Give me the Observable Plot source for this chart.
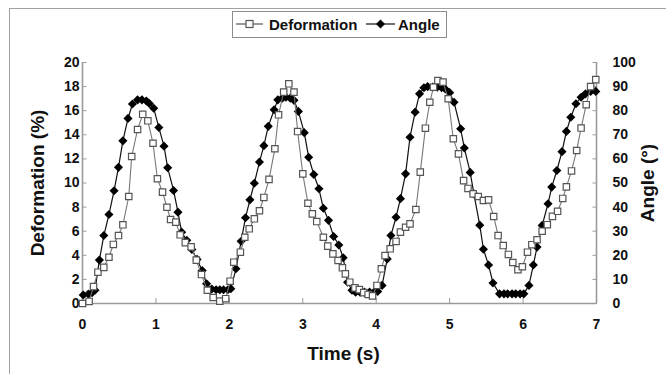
<!DOCTYPE html>
<html>
<head>
<meta charset="utf-8">
<script src="https://cdn.jsdelivr.net/npm/d3@7"></script>
<script src="https://cdn.jsdelivr.net/npm/@observablehq/plot@0.6"></script>
<style>
  html, body { margin: 0; padding: 0; background: #fff; }
  body { width: 666px; height: 374px; overflow: hidden; position: relative; font-family: "Liberation Sans", Arial, sans-serif; }
  #frame { position: absolute; left: 9px; top: 8px; width: 720px; height: 420px; border: 1.5px solid #a0a0a0; box-sizing: border-box; }
  #chart { position: absolute; left: 0; top: 0; }
  #legend { position: absolute; left: 232px; top: 11px; width: 215px; height: 27px; border: 1.5px solid #8c8c8c; box-sizing: border-box; background: #fff; }
</style>
</head>
<body>
<div id="frame"></div>
<div id="chart"></div>
<div id="legend"></div>
<script>
// ---- Data ----
const xTicks = [0, 1, 2, 3, 4, 5, 6, 7];
const deformationTicks = [0, 2, 4, 6, 8, 10, 12, 14, 16, 18, 20];
const angleTicks = [0, 10, 20, 30, 40, 50, 60, 70, 80, 90, 100];

// Deformation (%) samples
const timeDeformation = [0.00,0.09,0.15,0.21,0.29,0.36,0.42,0.49,0.55,0.63,0.67,0.75,0.82,0.89,0.96,1.02,1.09,1.15,1.20,1.27,1.33,1.40,1.48,1.55,1.62,1.70,1.78,1.87,1.95,2.01,2.06,2.15,2.21,2.27,2.34,2.41,2.47,2.54,2.62,2.67,2.74,2.81,2.88,2.93,3.00,3.07,3.13,3.19,3.28,3.34,3.41,3.48,3.54,3.58,3.64,3.71,3.77,3.83,3.89,3.95,4.01,4.07,4.12,4.19,4.27,4.33,4.40,4.46,4.54,4.60,4.67,4.73,4.78,4.84,4.91,4.98,5.05,5.12,5.19,5.25,5.32,5.39,5.46,5.53,5.60,5.66,5.73,5.80,5.86,5.93,5.99,6.06,6.12,6.19,6.26,6.33,6.40,6.47,6.54,6.59,6.66,6.73,6.79,6.86,6.92,6.99];
const deformation = [0.0,0.17,1.4,2.6,3.0,3.84,4.9,5.64,6.53,8.88,12.2,14.44,15.7,15.16,13.3,10.35,9.24,7.99,6.97,6.75,5.7,5.05,4.7,3.6,2.4,1.1,0.5,0.2,0.4,1.85,3.43,4.26,5.5,6.2,7.03,7.7,8.8,10.3,12.84,15.66,17.54,18.23,17.54,14.27,10.76,8.32,7.44,6.8,5.5,4.76,4.12,3.57,2.96,2.46,1.77,1.3,1.15,0.9,0.75,0.63,1.5,2.88,3.98,4.54,5.15,5.92,6.33,6.61,7.8,10.9,14.55,16.7,17.95,18.5,18.37,16.99,13.67,12.42,10.2,9.55,9.1,8.88,8.55,8.6,7.22,5.64,4.81,4.07,3.4,2.8,3.05,4.26,4.88,5.29,6.0,6.54,7.23,7.65,8.72,9.68,11.0,12.7,14.56,16.5,18.0,18.58];

// Angle (degrees) samples
const timeAngle = [0.01,0.08,0.13,0.17,0.23,0.29,0.36,0.43,0.49,0.55,0.62,0.68,0.75,0.81,0.87,0.91,0.97,1.04,1.11,1.16,1.24,1.30,1.35,1.42,1.49,1.56,1.63,1.69,1.76,1.82,1.87,1.92,1.98,2.02,2.09,2.16,2.22,2.28,2.34,2.41,2.47,2.53,2.61,2.66,2.72,2.77,2.83,2.88,2.94,3.02,3.08,3.15,3.22,3.28,3.35,3.42,3.49,3.55,3.61,3.67,3.72,3.78,3.84,3.91,3.97,4.02,4.08,4.15,4.20,4.27,4.33,4.40,4.46,4.53,4.59,4.65,4.70,4.77,4.83,4.89,4.94,5.00,5.06,5.15,5.20,5.28,5.33,5.41,5.46,5.53,5.59,5.68,5.74,5.79,5.85,5.90,5.96,6.01,6.08,6.14,6.19,6.26,6.34,6.39,6.46,6.53,6.59,6.65,6.72,6.79,6.85,6.92,6.99];
const angle = [3.5,3.9,4.5,5.5,18,28.2,36.9,46.8,56.5,67.5,76.8,82.8,84.5,84.5,84,83,81,73,65.3,56.3,46.9,37.9,29.6,26.2,22.4,18.3,13.7,8.2,6,5.7,5.7,5.7,5.7,6.1,14.4,25.8,35.6,43,49.9,58.7,65.5,73.5,80.4,84.5,85.2,85.6,85.2,84.3,79.7,70.9,60.7,53.5,47.6,39.5,34.5,27.8,24.3,19,8.8,5.5,4.7,4.7,4.7,4.7,4.7,5,7.5,18.5,28.2,35.8,43.5,53.8,69,79.4,87,89.5,90,89.8,89.8,89.5,89,87.5,83.5,72.5,64.5,54.4,45.5,32.5,22.5,16,8.5,4,4,4,4,4,4,4,7.5,16,23.4,32.4,41.4,48.3,55.2,63,71.4,77.3,82.9,85.6,87,88,88];

// Angle axis (0-100) shares the frame with deformation axis (0-20)
const angleToDef = 20 / 100;
const defRows = timeDeformation.map((t, i) => ({t, v: deformation[i]}));
const angRows = timeAngle.map((t, i) => ({t, v: angle[i] * angleToDef}));

const axisColor = "#9a9a9a";
const font = "'Liberation Sans', Arial, sans-serif";

const chart = Plot.plot({
  width: 666,
  height: 374,
  marginLeft: 82,
  marginRight: 70,
  marginTop: 62,
  marginBottom: 71,
  x: {domain: [0, 7]},
  y: {domain: [0, 20]},
  style: {fontFamily: font, fontSize: "14px", fontWeight: "bold", color: "#111", background: "transparent"},
  marks: [
    Plot.ruleY([0], {stroke: axisColor, strokeWidth: 1.6}),
    Plot.ruleX([0], {stroke: axisColor, strokeWidth: 1.6}),
    Plot.ruleX([7], {stroke: axisColor, strokeWidth: 1.6}),
    Plot.axisX(xTicks, {anchor: "bottom", tickSize: -5, tickPadding: 21, stroke: axisColor, label: null, fill: "#111"}),
    Plot.axisY(deformationTicks, {anchor: "left", tickSize: -4.5, tickPadding: 7.5, stroke: axisColor, label: null, fill: "#111"}),
    Plot.axisY(angleTicks.map(a => a * angleToDef), {anchor: "right", tickSize: -4.5, tickPadding: 20.5, stroke: axisColor, label: null, fill: "#111",
      tickFormat: d => String(Math.round(d / angleToDef))}),
    Plot.text(["Time (s)"], {frameAnchor: "bottom", dx: 4, dy: 50, fontSize: 19, fontWeight: "bold", fill: "#111", lineAnchor: "middle", textAnchor: "middle"}),
    Plot.text(["Deformation (%)"], {frameAnchor: "left", dx: -45, rotate: -90, fontSize: 19, fontWeight: "bold", fill: "#111", textAnchor: "middle", lineAnchor: "middle"}),
    Plot.text(["Angle (°)"], {frameAnchor: "right", dx: 51, rotate: -90, fontSize: 19, fontWeight: "bold", fill: "#111", textAnchor: "middle", lineAnchor: "middle"}),
    // Angle series
    Plot.line(angRows, {x: "t", y: "v", stroke: "#111", strokeWidth: 1.2}),
    Plot.dot(angRows, {x: "t", y: "v", symbol: "diamond2", r: 4.1, fill: "#000", stroke: "none"}),
    // Deformation series
    Plot.line(defRows, {x: "t", y: "v", stroke: "#777", strokeWidth: 1.1}),
    Plot.dot(defRows, {x: "t", y: "v", symbol: "square", r: 3.6, fill: "#fff", stroke: "#555", strokeWidth: 1.2})
  ]
});
document.getElementById("chart").appendChild(chart);

// Legend
const lg = d3.select("#legend").append("svg").attr("width", 212).attr("height", 24)
  .style("display", "block");
function swatch(x0, x1, kind) {
  const g = lg.append("g");
  g.append("line").attr("x1", x0).attr("x2", x1).attr("y1", 12).attr("y2", 12)
    .attr("stroke", kind === "square" ? "#555" : "#111").attr("stroke-width", 1.2);
  const cx = (x0 + x1) / 2;
  if (kind === "square") {
    g.append("rect").attr("x", cx - 3.5).attr("y", 8.5).attr("width", 7).attr("height", 7)
      .attr("fill", "#fff").attr("stroke", "#555").attr("stroke-width", 1.2);
  } else {
    g.append("path").attr("d", `M${cx},${7.5}L${cx + 4.5},12L${cx},${16.5}L${cx - 4.5},12Z`).attr("fill", "#000");
  }
}
swatch(3, 30, "square");
lg.append("text").attr("x", 36).attr("y", 17.5).text("Deformation")
  .attr("font-family", font).attr("font-weight", "bold").attr("font-size", 15).attr("fill", "#111");
swatch(133, 162, "diamond");
lg.append("text").attr("x", 165).attr("y", 17.5).text("Angle")
  .attr("font-family", font).attr("font-weight", "bold").attr("font-size", 15).attr("fill", "#111");
</script>
</body>
</html>
